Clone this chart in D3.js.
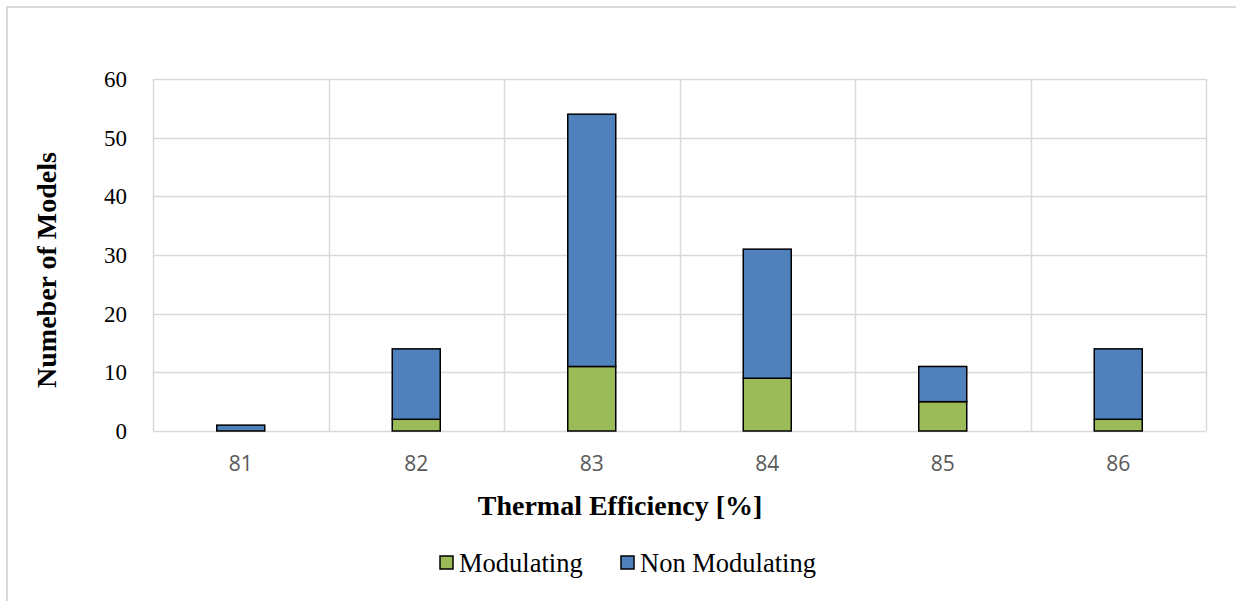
<!DOCTYPE html>
<html>
<head>
<meta charset="utf-8">
<script src="https://cdn.jsdelivr.net/npm/d3@7"></script>
<style>
  body { margin: 0; background: #fff; }
</style>
</head>
<body>
<div id="chart"></div>
<script>
// Chart data
const categories = ["81", "82", "83", "84", "85", "86"];
const modulating = [0, 2, 11, 9, 5, 2];
const nonModulating = [1, 12, 43, 22, 6, 12];
const yTicks = [0, 10, 20, 30, 40, 50, 60];
const seriesNames = ["Modulating", "Non Modulating"];
const seriesColors = ["#9bbb59", "#4f81bd"];

const width = 1236, height = 601;
const margin = { top: 79, right: 30, bottom: 170, left: 153 };

const svg = d3.select("#chart").append("svg")
    .attr("width", width)
    .attr("height", height);

// Outer chart border
svg.append("rect")
    .attr("x", 7).attr("y", 7)
    .attr("width", width).attr("height", height)
    .attr("fill", "none")
    .attr("stroke", "#d9d9d9")
    .attr("stroke-width", 2);

const x = d3.scaleBand()
    .domain(categories)
    .range([margin.left, width - margin.right])
    .paddingInner(0).paddingOuter(0);

const y = d3.scaleLinear()
    .domain([0, 60])
    .range([height - margin.bottom, margin.top]);

// Build stacked table
const table = categories.map((c, i) => ({ cat: c, Modulating: modulating[i], "Non Modulating": nonModulating[i] }));
const stacked = d3.stack().keys(seriesNames)(table);

// Horizontal gridlines
svg.append("g").selectAll("line")
    .data(yTicks)
    .join("line")
    .attr("x1", margin.left).attr("x2", x.range()[1])
    .attr("y1", d => Math.round(y(d)) + 0.5).attr("y2", d => Math.round(y(d)) + 0.5)
    .attr("stroke", "#d9d9d9").attr("stroke-width", 1.5);

// Vertical gridlines at category boundaries
const bounds = categories.map(c => x(c)).concat([x.range()[1]]);
svg.append("g").selectAll("line")
    .data(bounds)
    .join("line")
    .attr("x1", d => Math.round(d) + 0.5).attr("x2", d => Math.round(d) + 0.5)
    .attr("y1", y(60)).attr("y2", y(0))
    .attr("stroke", "#d9d9d9").attr("stroke-width", 1.5);

// Bars
const barW = 48;
svg.append("g").selectAll("g")
    .data(stacked)
    .join("g")
    .attr("fill", (d, i) => seriesColors[i])
    .selectAll("rect")
    .data(d => d.filter(s => s[1] - s[0] > 0))
    .join("rect")
    .attr("x", d => x(d.data.cat) + x.bandwidth() / 2 - barW / 2)
    .attr("y", d => y(d[1]))
    .attr("width", barW)
    .attr("height", d => y(d[0]) - y(d[1]))
    .attr("stroke", "#000")
    .attr("stroke-width", 1.5);

// Y axis labels
svg.append("g").selectAll("text")
    .data(yTicks)
    .join("text")
    .attr("x", 127)
    .attr("y", d => y(d))
    .attr("dy", "0.35em")
    .attr("text-anchor", "end")
    .style("font-family", "'Liberation Serif', 'Times New Roman', serif")
    .style("font-size", "23px")
    .attr("fill", "#000")
    .text(d => d);

// X axis labels
svg.append("g").selectAll("text")
    .data(categories)
    .join("text")
    .attr("x", d => x(d) + x.bandwidth() / 2)
    .attr("y", 471)
    .attr("text-anchor", "middle")
    .style("font-family", "'Open Sans', sans-serif")
    .style("font-size", "21px")
    .attr("fill", "#595959")
    .text(d => d);

// Axis titles
svg.append("text")
    .attr("x", 620)
    .attr("y", 515)
    .attr("text-anchor", "middle")
    .style("font-family", "'Liberation Serif', 'Times New Roman', serif")
    .style("font-size", "28px")
    .style("font-weight", "bold")
    .text("Thermal Efficiency [%]");

svg.append("text")
    .attr("transform", `translate(56, ${(y(0) + y(60)) / 2 + 15}) rotate(-90)`)
    .attr("text-anchor", "middle")
    .style("font-family", "'Liberation Serif', 'Times New Roman', serif")
    .style("font-size", "28px")
    .style("font-weight", "bold")
    .text("Numeber of Models");

// Legend
const legendItems = [
    { name: seriesNames[0], color: seriesColors[0], x: 440 },
    { name: seriesNames[1], color: seriesColors[1], x: 621 }
];
const legend = svg.append("g").selectAll("g")
    .data(legendItems)
    .join("g")
    .attr("transform", d => `translate(${d.x}, 556)`);
legend.append("rect")
    .attr("width", 13).attr("height", 13)
    .attr("fill", d => d.color)
    .attr("stroke", "#000").attr("stroke-width", 1.5);
legend.append("text")
    .attr("x", 19).attr("y", 16)
    .style("font-family", "'Liberation Serif', 'Times New Roman', serif")
    .style("font-size", "26.5px")
    .text(d => d.name);
</script>
</body>
</html>
